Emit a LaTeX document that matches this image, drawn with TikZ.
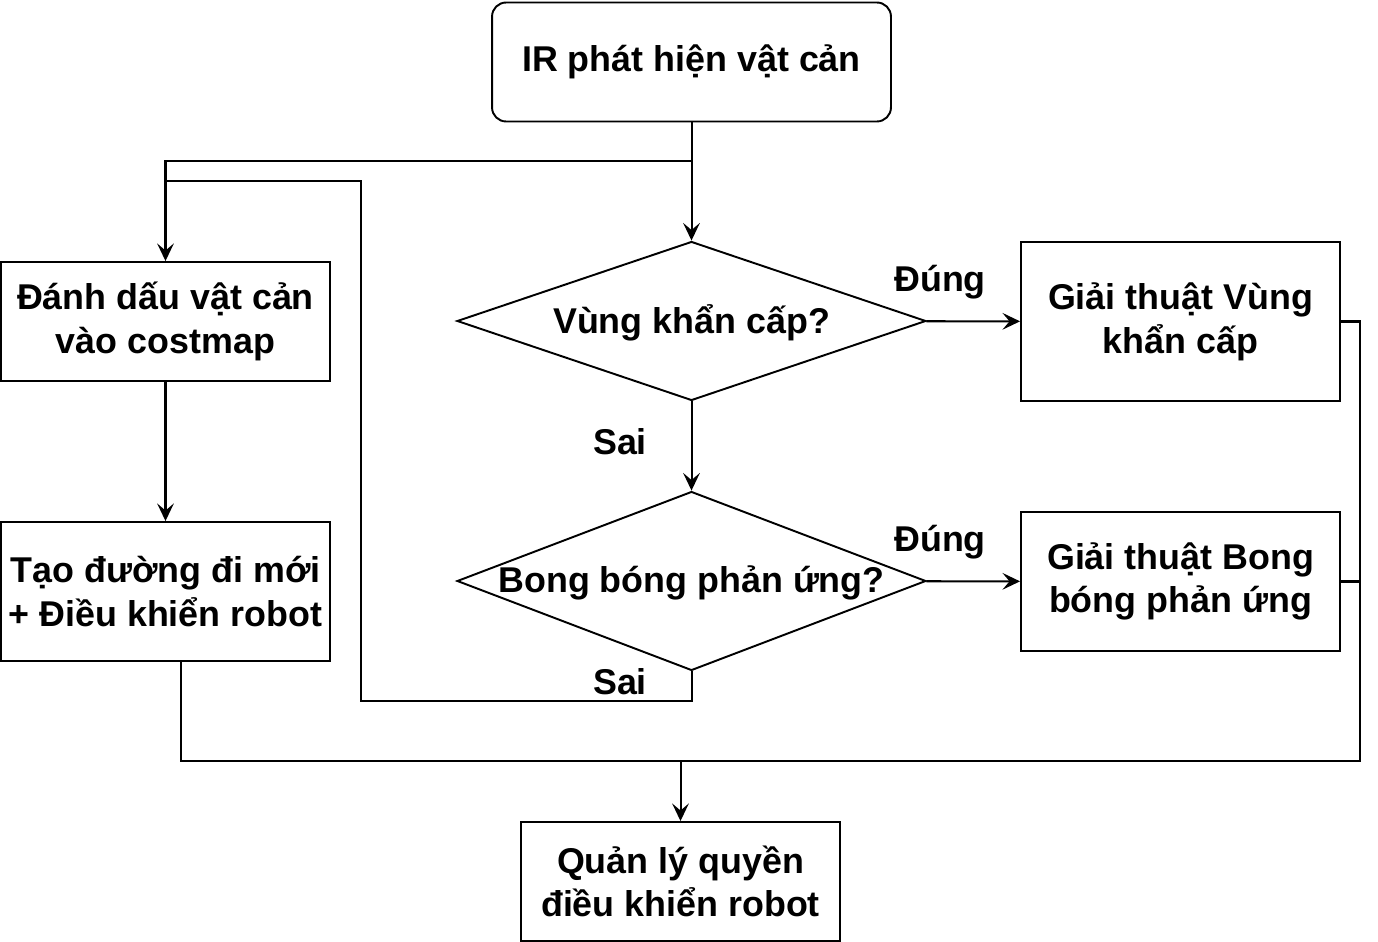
\documentclass[tikz,border=0pt]{standalone}
\usepackage{fontspec}
\setmainfont{Liberation Sans}
\usetikzlibrary{shapes.geometric,arrows.meta}

\begin{document}
\begin{tikzpicture}[x=0.02cm,y=-0.02cm,
        chu/.style={font=\fontsize{20.4}{24.9}\selectfont\bfseries, align=center},
        hop/.style={draw, line width=1.1pt, minimum width=6.38cm, minimum height=2.38cm, inner sep=0pt, chu},
        thoi/.style={draw, diamond, line width=1.1pt, minimum width=9.38cm, minimum height=3.18cm, inner sep=0pt},
        mui/.style={line width=1.15pt, -{Stealth[length=10pt,width=9.5pt,inset=4pt]}},
        day/.style={line width=1.15pt}]
        \useasboundingbox (0,0) rectangle (1378,942);

        % 定义各个方框
        \node[hop, rounded corners=8pt, minimum width=7.98cm] (ir) at (691.5,62) {IR phát hiện vật cản};
        \node[hop, minimum width=6.58cm] (mark) at (165.5,321.5) {Đánh dấu vật cản\\vào costmap};
        \node[hop, minimum width=6.58cm, minimum height=2.78cm] (route) at (165.5,591.5) {Tạo đường đi mới\\+ Điều khiển robot};
        \node[hop, minimum height=3.18cm] (alg1) at (1180.5,321.5) {Giải thuật Vùng\\khẩn cấp};
        \node[hop, minimum height=2.78cm] (alg2) at (1180.5,581.5) {Giải thuật Bong\\bóng phản ứng};
        \node[hop] (manage) at (680.5,881.5) {Quản lý quyền\\điều khiển robot};

        % 两个菱形
        \node[thoi] (vung) at (691.5,321) {};
        \node[chu] at (691.5,323) {Vùng khẩn cấp?};
        \node[thoi, minimum height=3.58cm] (bong) at (691.5,581) {};
        \node[chu] at (691.5,583) {Bong bóng phản ứng?};

        % 折线的拐点
        \coordinate (split) at (691.5,161);
        \coordinate (loopR) at (361,701);
        \coordinate (loopT) at (361,181);
        \coordinate (loopL) at (165.5,181);
        \coordinate (rbus) at (1360,761);
        \coordinate (join) at (680.5,761);

        % 连线
        \draw[mui] (ir) -- (vung);
        \draw[mui] (split) -| (mark);
        \draw[mui] (mark) -- (route);
        \draw[mui] (vung) -- (bong);
        \draw[mui] (vung) -- (alg1);
        \draw[mui] (bong) -- (alg2);
        \draw[day] (bong.south) |- (loopR) -- (loopT) -- (loopL);
        \draw[day] (alg1.east) -| (rbus) -- (join);
        \draw[day] (alg2.east) -| (rbus);
        \draw[day] ([xshift=0.31cm]route.south) |- (join);
        \draw[mui] (join) -- (manage);

        % 标签
        \node[chu] (yes1) at (940,282) {Đúng};
        \node[chu] (yes2) at (940,542) {Đúng};
        \node[chu] (no1) at (620,442) {Sai};
        \node[chu] (no2) at (620,682) {Sai};
    \end{tikzpicture}
\end{document}
